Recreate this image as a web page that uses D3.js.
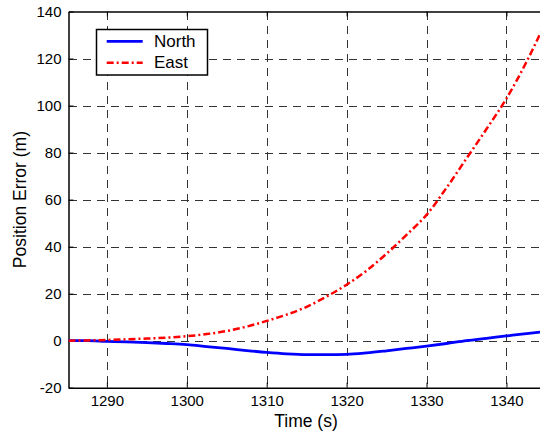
<!DOCTYPE html>
<html>
<head>
<meta charset="utf-8">
<script src="https://cdn.jsdelivr.net/npm/d3@7/dist/d3.min.js"></script>
<style>
  html, body { margin: 0; padding: 0; background: #fff; }
  svg { display: block; font-family: "Liberation Sans", Arial, sans-serif; }
</style>
</head>
<body>
<svg id="chart" width="540" height="437"></svg>
<script>
// Time stamps (s) and position error series (m)
const time = [1285.2, 1287.5, 1290, 1292.5, 1295, 1297.5, 1300, 1302.5, 1305, 1307.5,
              1310, 1312.5, 1315, 1317.5, 1320, 1322.5, 1325, 1327.5, 1330, 1332.5,
              1335, 1337.5, 1340, 1342.5, 1344.7];
const north = [0, 0, -0.3, -0.5, -0.8, -1.2, -1.7, -2.5, -3.3, -4.2,
               -5.0, -5.6, -5.9, -5.9, -5.8, -5.2, -4.3, -3.3, -2.3, -1.2,
               0, 1.0, 2.0, 3.0, 3.8];
const east = [0, 0.1, 0.3, 0.6, 0.9, 1.3, 1.9, 2.8, 4.1, 6.0,
              8.4, 11.1, 14.4, 18.8, 23.8, 29.8, 37.0, 45.0, 53.5, 65.0,
              77.5, 90.0, 103.0, 118.5, 134];
const xTicks = [1290, 1300, 1310, 1320, 1330, 1340];
const yTicks = [-20, 0, 20, 40, 60, 80, 100, 120, 140];
const seriesNames = ["North", "East"];

const svg = d3.select("#chart");
const plotLeft = 68.5, plotRight = 544, plotTop = 11.5, plotBottom = 387.7;

const x = d3.scaleLinear().domain([1285.2, 1344.7]).range([plotLeft, plotRight]);
const y = d3.scaleLinear().domain([-20, 140]).range([plotBottom, plotTop]);

// clip region for the plotted data
svg.append("defs").append("clipPath").attr("id", "plotClip")
  .append("rect").attr("x", plotLeft).attr("y", plotTop)
  .attr("width", plotRight - plotLeft).attr("height", plotBottom - plotTop);

// dashed grid
const grid = svg.append("g").attr("stroke", "#333").attr("stroke-width", 1)
  .attr("stroke-dasharray", "8,6").attr("shape-rendering", "crispEdges");
grid.selectAll("line.v").data(xTicks).join("line")
  .attr("x1", d => Math.round(x(d)) + 0.5).attr("x2", d => Math.round(x(d)) + 0.5)
  .attr("y1", plotTop).attr("y2", plotBottom);
grid.selectAll("line.h").data(yTicks.slice(1, -1)).join("line")
  .attr("y1", d => Math.round(y(d)) + 0.5).attr("y2", d => Math.round(y(d)) + 0.5)
  .attr("x1", plotLeft).attr("x2", plotRight);

// axes with inward ticks, plain integer labels
const plain = d => String(d);
const xAxis = svg.append("g").attr("transform", `translate(0,${plotBottom})`)
  .call(d3.axisBottom(x).tickValues(xTicks).tickFormat(plain)
    .tickSizeInner(-5).tickSizeOuter(0).tickPadding(8));
const yAxis = svg.append("g").attr("transform", `translate(${plotLeft},0)`)
  .call(d3.axisLeft(y).tickValues(yTicks).tickFormat(plain)
    .tickSizeInner(-5).tickSizeOuter(0).tickPadding(7));
const xTop = svg.append("g").attr("transform", `translate(0,${plotTop})`)
  .call(d3.axisTop(x).tickValues(xTicks).tickSizeInner(-5).tickSizeOuter(0).tickFormat(""));
[xAxis, yAxis, xTop].forEach(g => {
  g.select(".domain").attr("stroke", "#000").attr("stroke-width", 1.5);
  g.selectAll(".tick line").attr("stroke", "#000");
  g.selectAll("text").attr("fill", "#000").attr("font-size", "15px")
    .attr("font-family", "'Liberation Sans', Arial, sans-serif");
});

// data lines
const line = d3.line().x((d, i) => x(time[i])).y(d => y(d)).curve(d3.curveMonotoneX);
const plot = svg.append("g").attr("clip-path", "url(#plotClip)");
plot.append("path").datum(north).attr("d", line)
  .attr("fill", "none").attr("stroke", "#0000ff").attr("stroke-width", 2.8);
plot.append("path").datum(east).attr("d", line)
  .attr("fill", "none").attr("stroke", "#ff0000").attr("stroke-width", 2.5)
  .attr("stroke-dasharray", "7,3,2,3");

// axis titles
svg.append("text").attr("x", 306).attr("y", 426.5).attr("text-anchor", "middle")
  .attr("font-size", "17.5px").text("Time (s)");
svg.append("text").attr("transform", `translate(26,${(plotTop + plotBottom) / 2}) rotate(-90)`)
  .attr("text-anchor", "middle").attr("font-size", "17.5px").text("Position Error (m)");

// legend
const lg = svg.append("g");
lg.append("rect").attr("x", 96.5).attr("y", 29.5).attr("width", 111).attr("height", 45.5)
  .attr("fill", "#fff").attr("stroke", "#000").attr("stroke-width", 1.5);
const legendStyles = [
  { color: "#0000ff", dash: null, w: 2.8, y: 41.3, ty: 47.3 },
  { color: "#ff0000", dash: "7,3,2,3", w: 2.5, y: 62.7, ty: 68.3 }
];
seriesNames.forEach((name, i) => {
  const s = legendStyles[i];
  lg.append("line").attr("x1", 106.7).attr("x2", 142.7).attr("y1", s.y).attr("y2", s.y)
    .attr("stroke", s.color).attr("stroke-width", s.w).attr("stroke-dasharray", s.dash);
  lg.append("text").attr("x", 154).attr("y", s.ty).attr("font-size", "17px").text(name);
});
</script>
</body>
</html>
